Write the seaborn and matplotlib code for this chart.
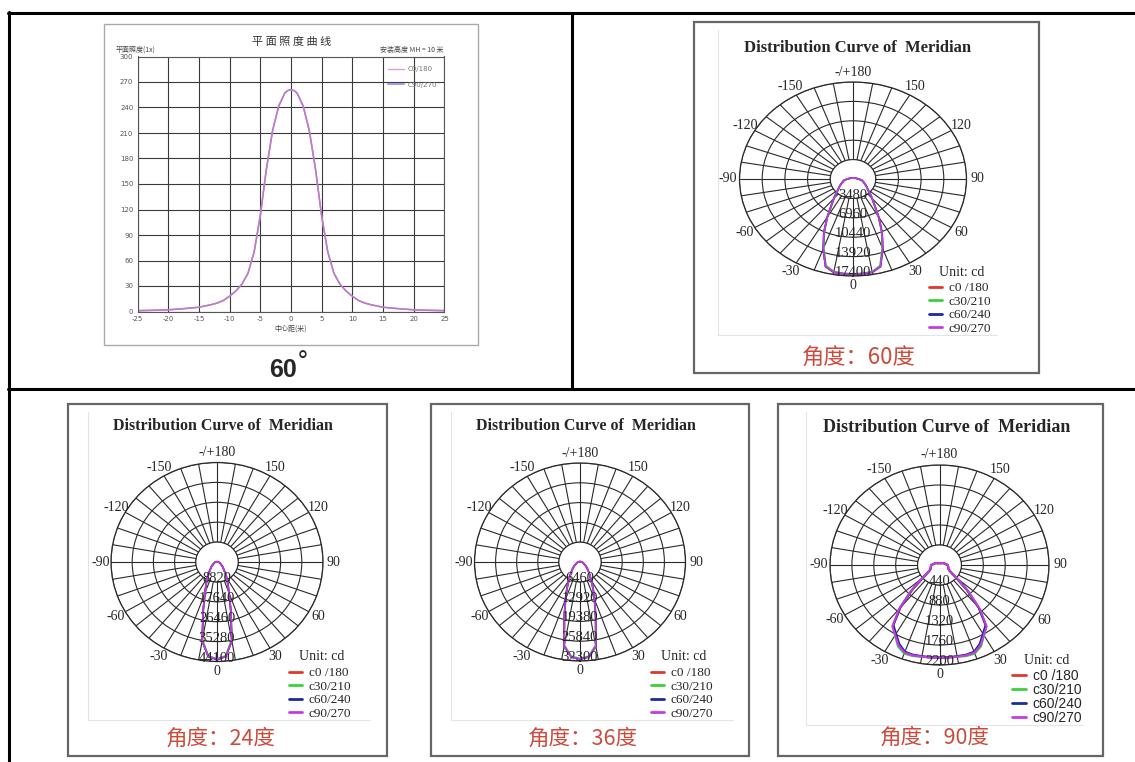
import numpy as np
import pandas as pd
import matplotlib.pyplot as plt
import seaborn as sns
from matplotlib.lines import Line2D
from matplotlib.patches import Rectangle

sns.set_style("white")
plt.rcParams["axes.unicode_minus"] = False

W, H = 1135, 762
SERIF = "Liberation Serif"
SANS = "Liberation Sans"
CJK = ["Noto Sans CJK SC", "DejaVu Sans"]
RED_TXT = "#cc4b3c"

# planar illuminance curve (lx) vs distance from centre (m), MH = 10 m
dist_m = [-25, -22, -20, -18, -15, -13, -12, -11, -10, -9, -8, -7, -6, -5, -4, -3, -2, -1, -0.5, 0,
          0.5, 1, 2, 3, 4, 5, 6, 7, 8, 9, 10, 11, 12, 13, 15, 18, 20, 22, 25]
lux_c0 = [1, 1.5, 2, 3, 5, 8, 10, 13, 18, 24, 32, 45, 70, 113, 168, 213, 242, 257, 260, 261,
          260, 257, 242, 213, 168, 113, 70, 45, 32, 24, 18, 13, 10, 8, 5, 3, 2, 1.5, 1]
lux_c90 = [1, 1.5, 2, 3, 5, 8, 10, 13, 18, 24, 32, 45, 70, 112, 167, 212, 241, 257, 260, 261,
           260, 257, 241, 212, 167, 112, 70, 45, 32, 24, 18, 13, 10, 8, 5, 3, 2, 1.5, 1]
lux_xticks = [-25, -20, -15, -10, -5, 0, 5, 10, 15, 20, 25]
lux_yticks = [0, 30, 60, 90, 120, 150, 180, 210, 240, 270, 300]

# polar intensity distributions (cd), gamma angle from nadir
gamma = [0, 5, 10, 15, 20, 25, 30, 35, 40, 45, 50, 55, 60, 70, 80, 90, 120, 150, 180]
planes = ["c0 /180", "c30/210", "c60/240", "c90/270"]
plane_colors = ["#e0392b", "#3cd03c", "#1f2a9a", "#c43ce0"]

cd60_c0 = [17050, 17050, 16960, 16180, 13220, 10440, 7830, 5740, 4520, 3650, 2960, 2610, 2260, 1740, 1390, 870, 350, 170, 170]
cd60_c30 = [17000, 16990, 16880, 16050, 13100, 10350, 7760, 5700, 4480, 3620, 2940, 2590, 2240, 1720, 1370, 860, 340, 170, 170]
cd60_c60 = [17100, 17080, 17020, 16300, 13400, 10600, 7950, 5820, 4580, 3700, 3000, 2640, 2290, 1760, 1400, 880, 350, 170, 170]
cd60_c90 = [17050, 17030, 16940, 16250, 13350, 10520, 7900, 5800, 4550, 3680, 2980, 2620, 2270, 1750, 1390, 870, 350, 170, 170]
rings60 = [3480, 6960, 10440, 13920, 17400]

cd24_c0 = [43200, 41900, 35300, 22050, 14550, 10580, 7940, 6170, 4410, 3530, 2870, 2210, 1760, 1320, 880, 440, 220, 130, 130]
cd24_c30 = [43000, 41700, 35000, 21800, 14400, 10500, 7880, 6120, 4380, 3500, 2850, 2200, 1750, 1310, 870, 440, 220, 130, 130]
cd24_c60 = [43300, 42100, 35600, 22400, 14750, 10700, 8020, 6230, 4450, 3560, 2890, 2230, 1770, 1330, 890, 440, 220, 130, 130]
cd24_c90 = [43100, 42000, 35500, 22300, 14700, 10650, 8000, 6200, 4430, 3550, 2880, 2220, 1760, 1320, 880, 440, 220, 130, 130]
rings24 = [8820, 17640, 26460, 35280, 44100]

cd36_c0 = [31650, 31010, 27780, 18410, 12920, 9370, 6780, 5170, 4040, 3230, 2580, 2100, 1620, 1130, 810, 480, 190, 130, 130]
cd36_c30 = [31500, 30850, 27550, 18200, 12780, 9280, 6720, 5120, 4000, 3200, 2560, 2080, 1600, 1120, 800, 480, 190, 130, 130]
cd36_c60 = [31750, 31150, 28000, 18700, 13100, 9480, 6850, 5220, 4080, 3260, 2600, 2120, 1630, 1140, 820, 480, 190, 130, 130]
cd36_c90 = [31700, 31080, 27900, 18600, 13020, 9430, 6820, 5200, 4060, 3250, 2590, 2110, 1620, 1130, 810, 480, 190, 130, 130]
rings36 = [6460, 12920, 19380, 25840, 32300]

cd90_c0 = [2046, 2046, 2046, 2057, 2046, 1936, 1760, 1628, 1232, 792, 440, 286, 220, 187, 176, 165, 88, 44, 44]
cd90_c30 = [2040, 2042, 2050, 2075, 2075, 1975, 1790, 1640, 1240, 800, 445, 290, 222, 188, 176, 165, 88, 44, 44]
cd90_c60 = [2035, 2036, 2036, 2045, 2030, 1915, 1745, 1615, 1225, 790, 438, 285, 218, 186, 175, 164, 88, 44, 44]
cd90_c90 = [2046, 2046, 2046, 2060, 2052, 1950, 1780, 1650, 1260, 815, 450, 292, 222, 188, 176, 165, 88, 44, 44]
rings90 = [440, 880, 1320, 1760, 2200]

angle_ticks = [0, 30, 60, 90, 120, 150, 180, 210, 240, 270, 300, 330]
angle_labels = ["0", "30", "60", "90", "120", "150", "-/+180", "-150", "-120", "-90", "-60", "-30"]


def box(x0, y0, x1, y1):
    return [x0 / W, 1 - y1 / H, (x1 - x0) / W, (y1 - y0) / H]


def fline(x0, y0, x1, y1, **kw):
    fig.add_artist(Line2D([x0 / W, x1 / W], [1 - y0 / H, 1 - y1 / H], transform=fig.transFigure, **kw))


def frame(x0, y0, x1, y1, **kw):
    fig.add_artist(Rectangle((x0 / W, 1 - y1 / H), (x1 - x0) / W, (y1 - y0) / H,
                             transform=fig.transFigure, fill=False, **kw))


def ftext(x, y, s, **kw):
    fig.text(x / W, 1 - y / H, s, **kw)


fig = plt.figure(figsize=(W / 100, H / 100), dpi=100)

# table grid
fline(8, 13, 1135, 13, color="black", lw=2.2)
fline(8.5, 12, 8.5, 762, color="black", lw=2.2)
fline(8, 388.5, 1135, 388.5, color="black", lw=2.2)
fline(571.5, 13, 571.5, 388.5, color="black", lw=2.2)

# ---- top left: planar illuminance curve ----
frame(104, 24, 478, 345, edgecolor="#aaaaaa", lw=1)
ax0 = fig.add_axes(box(137.5, 56.5, 444.4, 311.5))
df_lux = pd.DataFrame({
    "x": dist_m + dist_m,
    "lux": lux_c0 + lux_c90,
    "plane": ["C0/180"] * len(dist_m) + ["C90/270"] * len(dist_m),
})
sns.lineplot(data=df_lux, x="x", y="lux", hue="plane", hue_order=["C90/270", "C0/180"],
             palette=["#a58ad8", "#c07ac6"], ax=ax0, lw=1.1, legend=False)
ax0.set_xlim(-25, 25)
ax0.set_ylim(0, 300)
ax0.set_xticks(lux_xticks)
ax0.set_yticks(lux_yticks)
ax0.set_xlabel("")
ax0.set_ylabel("")
ax0.grid(True, color="#3a3a3a", lw=0.8)
ax0.set_axisbelow(True)
ax0.tick_params(length=0, labelsize=5, colors="#555555", pad=3)
for s in ax0.spines.values():
    s.set_color("#555555")
    s.set_linewidth(0.8)
ax0.legend(handles=[Line2D([], [], color="#d9a0d9", lw=1), Line2D([], [], color="#a0a0e0", lw=1.5)],
           labels=["C0/180", "C90/270"], loc="upper left", bbox_to_anchor=(385 / W, 1 - 63 / H),
           bbox_transform=fig.transFigure, frameon=False, fontsize=5, labelcolor="#777777",
           handlelength=2.3, labelspacing=1.3, borderpad=0, handletextpad=0.4)

ftext(292, 42, "平 面 照 度 曲 线", ha="center", va="center", fontsize=8, color="#333333", family=CJK)
ftext(116, 50, "平面照度(1x)", ha="left", va="center", fontsize=5, color="#444444", family=CJK)
ftext(443, 50, "安装高度 MH = 10 米", ha="right", va="center", fontsize=5, color="#444444", family=CJK)
ftext(291, 329, "中心距(米)", ha="center", va="center", fontsize=5, color="#444444", family=CJK)
ftext(283, 370, "60", ha="center", va="center", fontsize=18, fontweight="bold", family=SANS)
ftext(303, 362, "°", ha="center", va="center", fontsize=17, family="DejaVu Sans")


# ---- polar distribution panels ----
def polar_panel(cx, cy, rx, ry, series, rings, leg_xy, title_xy, leg_font, lw=1.2, leg_fs=9.5,
                leg_sp=0.1):
    rmax = rings[-1]
    ax = fig.add_axes(box(cx - rx, cy - ry, cx + rx, cy + ry), projection="polar")
    ax.set_theta_zero_location("S")
    ax.set_theta_direction(1)
    g = np.array(gamma)
    theta = np.deg2rad(np.concatenate([-g[::-1], g]))
    rows = []
    for name, vals in zip(planes, series):
        v = np.array(vals)
        r = np.concatenate([v[::-1], v])
        rows.append(pd.DataFrame({"theta": theta, "cd": r, "plane": name}))
    df = pd.concat(rows, ignore_index=True)
    sns.lineplot(data=df, x="theta", y="cd", hue="plane", hue_order=planes, palette=plane_colors,
                 sort=False, estimator=None, ax=ax, lw=lw, legend=False, zorder=3)
    ax.set_xlabel("")
    ax.set_ylabel("")
    ax.set_aspect("auto")
    ax.set_ylim(0, rmax)
    ax.set_xticks(np.deg2rad(np.arange(0, 360, 10)))
    ax.set_xticklabels([])
    ax.set_yticks(rings)
    ax.set_yticklabels([])
    ax.grid(True, color="#2a2a2a", lw=0.8)
    ax.spines["polar"].set_color("#2a2a2a")
    ax.spines["polar"].set_linewidth(0.9)
    tt = np.linspace(0, 2 * np.pi, 241)
    ax.fill(tt, np.full(tt.shape, rings[0]), facecolor="white", edgecolor="#2a2a2a", lw=0.8, zorder=1.7)
    for a, lab in zip(angle_ticks, angle_labels):
        ax.text(np.deg2rad(a), 1.1 * rmax, lab, ha="center", va="center", fontsize=10,
                family=SERIF, clip_on=False)
    for k in rings:
        ax.text(0, k - 0.035 * rmax, f"{k}", ha="center", va="center", fontsize=10.5,
                family=SERIF, zorder=5)
    ftext(title_xy[0], title_xy[1], "Unit: cd", ha="center", va="center", fontsize=10, family=SERIF)
    handles = [Line2D([], [], color=c, lw=2) for c in plane_colors]
    ax.legend(handles=handles, labels=planes, loc="upper left",
              bbox_to_anchor=(leg_xy[0] / W, 1 - leg_xy[1] / H), bbox_transform=fig.transFigure,
              frameon=False, prop={"family": leg_font, "size": leg_fs}, handlelength=1.0,
              handletextpad=0.5, labelspacing=leg_sp, borderpad=0, borderaxespad=0)
    return ax


def faint_corner(x, y_top, y_bot, x_right):
    fline(x, y_top, x, y_bot, color="#e4e4e4", lw=0.8)
    fline(x, y_bot, x_right, y_bot, color="#e4e4e4", lw=0.8)


# top right: 60 deg
frame(694, 22, 1039, 373, edgecolor="#666666", lw=1.6)
faint_corner(718, 30, 335, 997)
ftext(858, 48, "Distribution Curve of  Meridian", ha="center", va="center", fontsize=12,
      fontweight="bold", family=SERIF)
polar_panel(853, 179, 113.5, 97, [cd60_c0, cd60_c30, cd60_c60, cd60_c90], rings60,
            (929, 282), (962, 272), SERIF)
ftext(859, 358, "角度：60度", ha="center", va="center", fontsize=16, color=RED_TXT, family=CJK)

# bottom: 24 deg
frame(68, 404, 387, 756, edgecolor="#666666", lw=1.6)
faint_corner(88, 412, 720, 370)
ftext(223, 426, "Distribution Curve of  Meridian", ha="center", va="center", fontsize=11.5,
      fontweight="bold", family=SERIF)
polar_panel(217, 562, 106, 99.5, [cd24_c0, cd24_c30, cd24_c60, cd24_c90], rings24,
            (289, 667), (322, 657), SERIF)
ftext(221, 739, "角度：24度", ha="center", va="center", fontsize=15.5, color=RED_TXT, family=CJK)

# bottom: 36 deg
frame(431, 404, 749, 756, edgecolor="#666666", lw=1.6)
faint_corner(451, 412, 720, 733)
ftext(586, 426, "Distribution Curve of  Meridian", ha="center", va="center", fontsize=11.5,
      fontweight="bold", family=SERIF)
polar_panel(580, 562, 105.5, 99, [cd36_c0, cd36_c30, cd36_c60, cd36_c90], rings36,
            (651, 667), (684, 657), SERIF)
ftext(583, 739, "角度：36度", ha="center", va="center", fontsize=15.5, color=RED_TXT, family=CJK)

# bottom: 90 deg
frame(778, 404, 1103, 756, edgecolor="#666666", lw=1.6)
faint_corner(806, 412, 725, 1083)
ftext(947, 428, "Distribution Curve of  Meridian", ha="center", va="center", fontsize=13,
      fontweight="bold", family=SERIF)
polar_panel(939.5, 565, 109.5, 100, [cd90_c0, cd90_c30, cd90_c60, cd90_c90], rings90,
            (1012, 669), (1047, 660), SANS, lw=1.5, leg_fs=10, leg_sp=0.0)
ftext(935, 738, "角度：90度", ha="center", va="center", fontsize=15.5, color=RED_TXT, family=CJK)

fig.savefig("out.png", dpi=100)
